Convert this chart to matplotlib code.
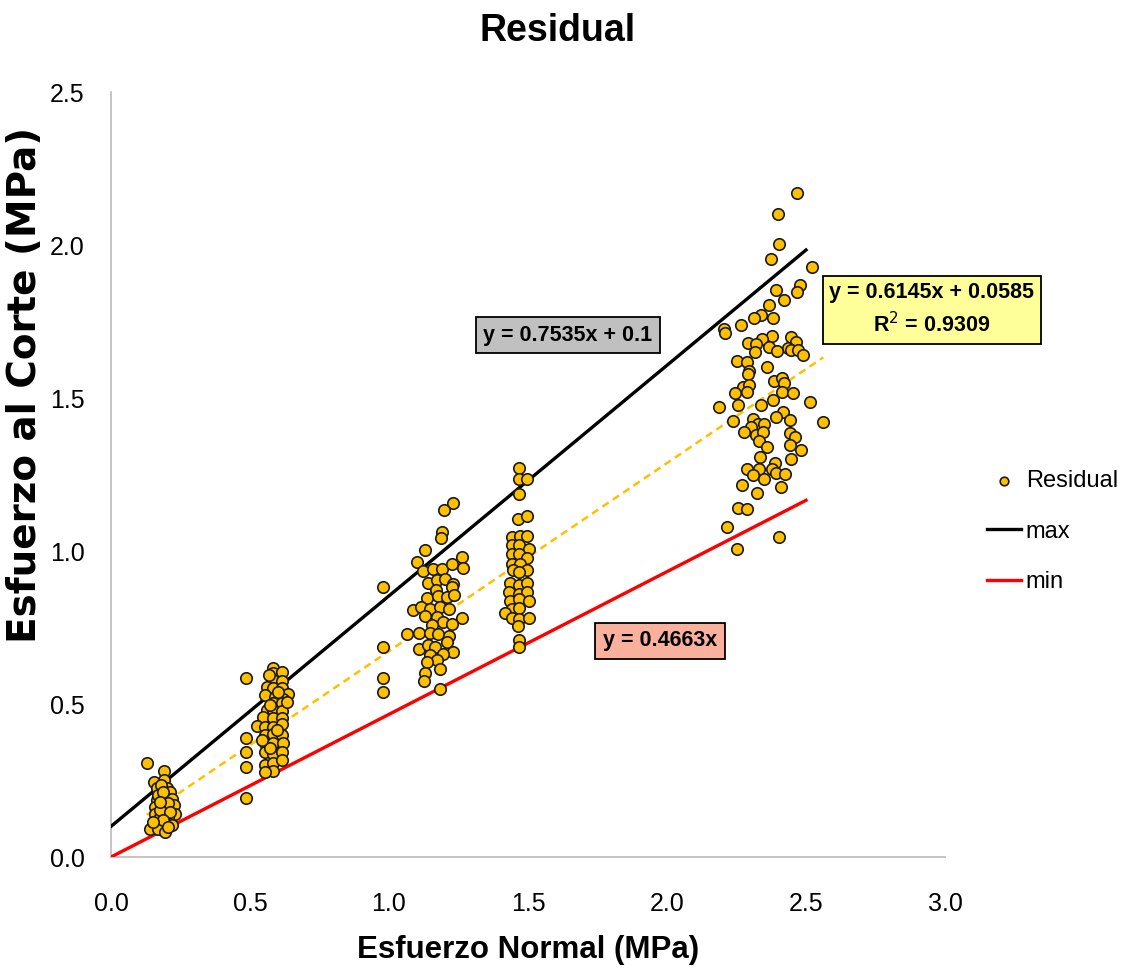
import matplotlib
matplotlib.use("Agg")
import matplotlib.pyplot as plt
import numpy as np

# Scatter data, grouped by normal-stress cluster (MPa)
x_g1 = [0.129, 0.192, 0.192, 0.155, 0.164, 0.200, 0.212, 0.164, 0.194, 0.218,
        0.158, 0.182, 0.228, 0.194, 0.158, 0.230, 0.176, 0.206, 0.164, 0.194,
        0.221, 0.140, 0.170, 0.194, 0.180, 0.170, 0.206, 0.176, 0.212, 0.188,
        0.152, 0.206, 0.188, 0.176]
y_g1 = [0.307, 0.281, 0.252, 0.246, 0.224, 0.224, 0.213, 0.186, 0.191, 0.191,
        0.164, 0.164, 0.170, 0.159, 0.139, 0.139, 0.131, 0.131, 0.106, 0.110,
        0.106, 0.092, 0.092, 0.081, 0.235, 0.203, 0.175, 0.154, 0.148, 0.121,
        0.115, 0.099, 0.213, 0.180]

x_g2 = [0.486, 0.486, 0.486, 0.486, 0.486,
        0.584, 0.584, 0.614, 0.584, 0.614, 0.560, 0.584, 0.614, 0.638, 0.554,
        0.590, 0.620, 0.584, 0.614, 0.560, 0.584, 0.614, 0.548, 0.584, 0.614,
        0.524, 0.554, 0.584, 0.614, 0.554, 0.584, 0.614, 0.554, 0.584, 0.620,
        0.554, 0.584, 0.614, 0.554, 0.584, 0.584, 0.554, 0.614, 0.572, 0.596,
        0.572, 0.602, 0.632, 0.542, 0.570]
y_g2 = [0.584, 0.390, 0.342, 0.294, 0.193,
        0.618, 0.600, 0.605, 0.578, 0.575, 0.556, 0.551, 0.551, 0.534, 0.529,
        0.524, 0.518, 0.502, 0.502, 0.480, 0.480, 0.477, 0.458, 0.453, 0.453,
        0.429, 0.425, 0.425, 0.436, 0.399, 0.401, 0.399, 0.371, 0.374, 0.371,
        0.344, 0.338, 0.342, 0.301, 0.306, 0.281, 0.278, 0.317, 0.355, 0.415,
        0.497, 0.540, 0.507, 0.382, 0.595]

x_g3 = [0.977, 0.977, 0.977, 0.977,
        1.229, 1.198, 1.189, 1.187, 1.129, 1.102, 1.124, 1.159, 1.189, 1.225,
        1.264, 1.265, 1.141, 1.171, 1.201, 1.229, 1.169, 1.225, 1.136, 1.177,
        1.210, 1.235, 1.085, 1.115, 1.147, 1.183, 1.217, 1.129, 1.171, 1.261,
        1.195, 1.225, 1.153, 1.066, 1.109, 1.147, 1.177, 1.217, 1.207, 1.109,
        1.141, 1.165, 1.231, 1.193, 1.147, 1.171, 1.136, 1.183, 1.129, 1.126,
        1.183]
y_g3 = [0.881, 0.687, 0.584, 0.538,
        1.158, 1.134, 1.063, 1.041, 1.003, 0.965, 0.935, 0.940, 0.940, 0.957,
        0.981, 0.943, 0.894, 0.905, 0.910, 0.892, 0.873, 0.881, 0.845, 0.853,
        0.850, 0.856, 0.807, 0.818, 0.812, 0.818, 0.812, 0.788, 0.785, 0.780,
        0.769, 0.763, 0.758, 0.729, 0.731, 0.733, 0.729, 0.722, 0.703, 0.681,
        0.692, 0.687, 0.671, 0.665, 0.660, 0.644, 0.638, 0.616, 0.600, 0.575,
        0.548]

x_g4 = [1.469, 1.469, 1.495, 1.469, 1.465, 1.498, 1.441, 1.471, 1.498, 1.441,
        1.469, 1.505, 1.441, 1.469, 1.495, 1.441, 1.471, 1.495, 1.445, 1.469,
        1.435, 1.469, 1.498, 1.433, 1.469, 1.498, 1.435, 1.469, 1.505, 1.441,
        1.469, 1.417, 1.441, 1.469, 1.505, 1.465, 1.469, 1.469]
y_g4 = [1.272, 1.237, 1.237, 1.185, 1.106, 1.114, 1.046, 1.050, 1.049, 1.020,
        1.021, 1.008, 0.989, 0.991, 0.976, 0.959, 0.959, 0.938, 0.938, 0.932,
        0.894, 0.889, 0.894, 0.867, 0.861, 0.867, 0.837, 0.843, 0.837, 0.812,
        0.814, 0.796, 0.782, 0.777, 0.780, 0.756, 0.709, 0.687]

x_g5 = [2.469, 2.400, 2.403, 2.374, 2.520, 2.478, 2.466, 2.392, 2.421, 2.368,
        2.380, 2.337, 2.313, 2.266, 2.205, 2.210, 2.376, 2.445, 2.464, 2.342,
        2.290, 2.319, 2.367, 2.434, 2.445, 2.470, 2.490, 2.318, 2.396, 2.251,
        2.289, 2.296, 2.360, 2.291, 2.275, 2.296, 2.289, 2.386, 2.412, 2.422,
        2.412, 2.453, 2.243, 2.186, 2.257, 2.338, 2.380, 2.514, 2.416, 2.392,
        2.444, 2.562, 2.239, 2.308, 2.329, 2.349, 2.302, 2.278, 2.320, 2.344,
        2.332, 2.442, 2.460, 2.442, 2.361, 2.483, 2.335, 2.447, 2.388, 2.289,
        2.332, 2.376, 2.311, 2.392, 2.424, 2.350, 2.269, 2.409, 2.323, 2.257,
        2.288, 2.215, 2.403, 2.251]
y_g5 = [2.169, 2.103, 2.003, 1.956, 1.928, 1.870, 1.847, 1.852, 1.822, 1.803,
        1.761, 1.770, 1.761, 1.739, 1.724, 1.713, 1.703, 1.700, 1.684, 1.694,
        1.680, 1.676, 1.667, 1.665, 1.657, 1.656, 1.640, 1.650, 1.654, 1.621,
        1.618, 1.588, 1.602, 1.580, 1.537, 1.544, 1.520, 1.555, 1.567, 1.548,
        1.520, 1.518, 1.516, 1.472, 1.476, 1.476, 1.495, 1.486, 1.455, 1.438,
        1.428, 1.422, 1.426, 1.433, 1.415, 1.415, 1.404, 1.389, 1.379, 1.388,
        1.359, 1.386, 1.373, 1.346, 1.341, 1.330, 1.306, 1.302, 1.288, 1.267,
        1.267, 1.269, 1.250, 1.256, 1.253, 1.234, 1.216, 1.208, 1.190, 1.141,
        1.136, 1.078, 1.046, 1.007]

# Envelope lines and linear trend (coefficients from the chart labels)
max_slope, max_icpt = 0.7535, 0.1
min_slope = 0.4663
fit_slope, fit_icpt, fit_r2 = 0.6145, 0.0585, 0.9309
env_x = [0.0, 2.5]

x_ticks = [0.0, 0.5, 1.0, 1.5, 2.0, 2.5, 3.0]
y_ticks = [0.0, 0.5, 1.0, 1.5, 2.0, 2.5]

plt.rcParams["font.family"] = ["Liberation Sans", "DejaVu Sans"]

xs = np.array(x_g1 + x_g2 + x_g3 + x_g4 + x_g5)
ys = np.array(y_g1 + y_g2 + y_g3 + y_g4 + y_g5)

fig = plt.figure(figsize=(11.21, 9.73), dpi=100)
ax = fig.add_axes([0.099, 0.1192, 0.744, 0.7862])

ax.scatter(xs, ys, s=68, c="#FFC000", edgecolors="#1a1a1a", linewidths=1.2,
           zorder=4, label="Residual")

ex = np.array(env_x)
ax.plot(ex, max_slope * ex + max_icpt, color="black", lw=2.4, zorder=3, label="max")
ax.plot(ex, min_slope * ex, color="#FF0000", lw=2.4, zorder=3, label="min")

tx = np.array([xs.min(), xs.max()])
ax.plot(tx, fit_slope * tx + fit_icpt, color="#FFC000", lw=1.8,
        linestyle=(0, (3, 2)), zorder=3)

ax.set_xlim(0, 3.0)
ax.set_ylim(0, 2.5)
ax.set_xticks(x_ticks)
ax.set_yticks(y_ticks)
ax.set_xticklabels([f"{v:.1f}" for v in x_ticks])
ax.set_yticklabels([f"{v:.1f}" for v in y_ticks])
ax.tick_params(axis="x", length=0, pad=25, labelsize=18)
ax.tick_params(axis="y", length=0, pad=19, labelsize=18)
ax.spines[["top", "right"]].set_visible(False)
for s in ("left", "bottom"):
    ax.spines[s].set_color("#BFBFBF")
    ax.spines[s].set_linewidth(1.3)

ax.set_xlabel("Esfuerzo Normal (MPa)", fontsize=22.5, fontweight="bold", labelpad=14)
ax.set_ylabel("Esfuerzo al Corte (MPa)", fontsize=28, fontweight="bold",
              family="DejaVu Sans")
ax.yaxis.set_label_coords(-0.080, 0.617)
fig.text(0.497, 0.968, "Residual", fontsize=27, fontweight="bold",
         ha="center", va="center")

# Equation labels
ax.text(1.644, 1.706, f"y = {max_slope}x + {max_icpt}", fontsize=15.5,
        fontweight="bold", ha="center", va="center", zorder=6,
        bbox=dict(boxstyle="square,pad=0.35", fc="#C0C0C0", ec="black", lw=1.3))
ax.text(1.975, 0.706, f"y = {min_slope}x", fontsize=15.5,
        fontweight="bold", ha="center", va="center", zorder=6,
        bbox=dict(boxstyle="square,pad=0.35", fc="#F9B09C", ec="black", lw=1.3))
ax.text(2.953, 1.788, f"y = {fit_slope}x + {fit_icpt}\nR$^2$ = {fit_r2}",
        fontsize=15.5, fontweight="bold", ha="center", va="center", zorder=6,
        linespacing=1.45,
        bbox=dict(boxstyle="square,pad=0.3", fc="#FFFF99", ec="black", lw=1.3))

leg = ax.legend(loc="center left", bbox_to_anchor=(1.05, 0.4255), frameon=False,
                fontsize=17, handlelength=1.45, handletextpad=0.2,
                labelspacing=1.2, markerscale=0.75, borderpad=0,
                borderaxespad=0)

fig.savefig("out.png", dpi=100)
